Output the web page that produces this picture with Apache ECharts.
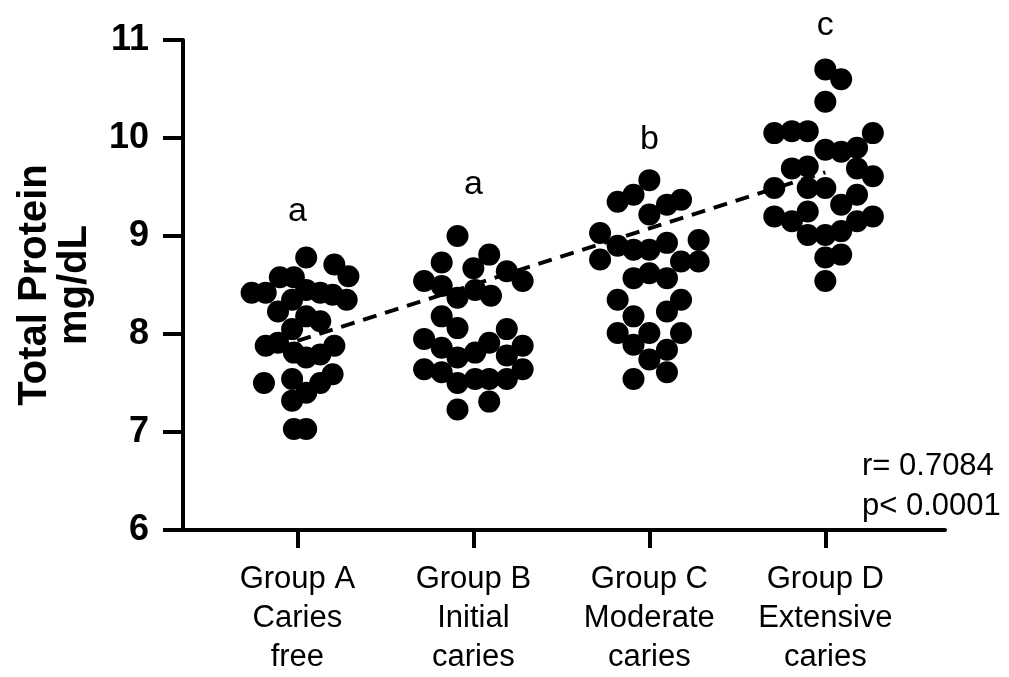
<!DOCTYPE html>
<html>
<head>
<meta charset="utf-8">
<script src="https://cdn.jsdelivr.net/npm/echarts@6/dist/echarts.min.js"></script>
<style>
    html, body { margin: 0; padding: 0; background: #fff; }
    #chart { width: 1009px; height: 677px; }
</style>
</head>
<body>
<div id="chart"></div>
<script>
// categories
const groups = ['Group A\nCaries\nfree', 'Group B\nInitial\ncaries', 'Group C\nModerate\ncaries', 'Group D\nExtensive\ncaries'];

// each point: [horizontal spread from group centre (category units), total protein mg/dL]
const groupA = [
    [0.05, 8.78], [0.21, 8.71], [0.29, 8.59], [-0.10, 8.58], [-0.02, 8.58],
    [-0.26, 8.42], [-0.18, 8.42], [0.05, 8.45], [0.13, 8.42], [0.20, 8.40],
    [0.28, 8.35], [-0.03, 8.35], [-0.11, 8.23], [0.05, 8.18], [0.13, 8.13],
    [-0.03, 8.05], [-0.18, 7.88], [-0.11, 7.91], [-0.02, 7.81], [0.05, 7.76],
    [0.13, 7.79], [0.21, 7.88], [-0.19, 7.50], [-0.03, 7.54], [0.13, 7.50],
    [0.20, 7.59], [0.05, 7.40], [-0.03, 7.32], [-0.02, 7.03], [0.05, 7.03]
];
const groupB = [
    [-0.09, 9.00], [0.09, 8.81], [-0.18, 8.73], [0.00, 8.67], [0.19, 8.64],
    [-0.28, 8.54], [0.28, 8.54], [-0.18, 8.49], [-0.09, 8.37], [0.01, 8.45],
    [0.10, 8.39], [-0.18, 8.18], [-0.09, 8.06], [0.19, 8.05], [-0.28, 7.95],
    [-0.18, 7.86], [-0.09, 7.76], [0.01, 7.81], [0.09, 7.91], [0.19, 7.78],
    [0.28, 7.88], [-0.28, 7.64], [-0.18, 7.61], [-0.09, 7.50], [0.01, 7.54],
    [0.09, 7.54], [0.19, 7.54], [0.28, 7.64], [-0.09, 7.23], [0.09, 7.31]
];
const groupC = [
    [0.00, 9.57], [-0.09, 9.42], [-0.18, 9.35], [0.18, 9.37], [0.10, 9.32],
    [0.00, 9.22], [-0.28, 9.03], [0.28, 8.96], [-0.18, 8.90], [-0.09, 8.86],
    [0.00, 8.86], [0.10, 8.93], [-0.28, 8.76], [0.18, 8.74], [0.28, 8.74],
    [-0.09, 8.57], [0.00, 8.62], [0.10, 8.57], [-0.18, 8.35], [0.18, 8.35],
    [-0.09, 8.18], [0.10, 8.23], [-0.18, 8.01], [-0.09, 7.89], [0.00, 8.01],
    [0.18, 8.01], [0.10, 7.84], [0.00, 7.74], [0.10, 7.61], [-0.09, 7.54]
];
const groupD = [
    [0.00, 10.70], [0.09, 10.60], [0.00, 10.37], [-0.29, 10.05], [-0.19, 10.07],
    [-0.10, 10.07], [0.27, 10.05], [0.00, 9.88], [0.09, 9.86], [0.18, 9.90],
    [-0.19, 9.69], [-0.10, 9.71], [0.18, 9.69], [0.27, 9.61], [-0.29, 9.49],
    [-0.10, 9.49], [0.00, 9.49], [0.09, 9.32], [0.18, 9.42], [-0.29, 9.20],
    [-0.19, 9.15], [-0.10, 9.25], [0.27, 9.20], [-0.10, 9.01], [0.00, 9.01],
    [0.09, 9.05], [0.18, 9.15], [0.00, 8.78], [0.09, 8.81], [0.00, 8.54]
];

// significance letters and the height they sit at
const sigLetters = ['a', 'a', 'b', 'c'];
const sigValues = [9.25, 9.52, 9.98, 11.15];

// linear regression ends (group 1 .. group 4)
const fitLine = [[1, 7.93], [4, 9.65]];
const stats = ['r= 0.7084', 'p< 0.0001'];

const FONT = 'Liberation Sans, Arial, sans-serif';

const chartDom = document.getElementById('chart');
const myChart = echarts.init(chartDom);

const points = [groupA, groupB, groupC, groupD].flatMap((pts, gi) =>
    pts.map(p => [gi + 1 + p[0], p[1]])
);

const option = {
    animation: false,
    backgroundColor: '#fff',
    grid: { left: 183, top: 40, right: 64, bottom: 146 },
    xAxis: {
        type: 'value',
        min: 0.35,
        max: 4.68,
        splitLine: { show: false },
        axisLine: { lineStyle: { color: '#000', width: 4 } },
        axisTick: {
            customValues: [1, 2, 3, 4],
            length: 18,
            lineStyle: { color: '#000', width: 4 }
        },
        axisLabel: {
            customValues: [1, 2, 3, 4],
            formatter: v => groups[Math.round(v) - 1],
            color: '#000',
            fontFamily: FONT,
            fontSize: 31,
            lineHeight: 39,
            margin: 30
        }
    },
    yAxis: {
        type: 'value',
        min: 6,
        max: 11,
        interval: 1,
        splitLine: { show: false },
        axisLine: { show: true, lineStyle: { color: '#000', width: 4 } },
        axisTick: { show: true, length: 20, lineStyle: { color: '#000', width: 4 } },
        axisLabel: {
            color: '#000',
            fontFamily: FONT,
            fontWeight: 'bold',
            fontSize: 36,
            margin: 34
        },
        name: 'Total Protein\nmg/dL',
        nameLocation: 'middle',
        nameRotate: 90,
        nameGap: 88,
        nameTextStyle: {
            color: '#000',
            fontFamily: FONT,
            fontWeight: 'bold',
            fontSize: 40,
            lineHeight: 40
        }
    },
    series: [
        {
            type: 'scatter',
            data: points,
            symbolSize: 22,
            itemStyle: { color: '#000', opacity: 1 }
        },
        {
            type: 'line',
            data: fitLine,
            symbol: 'none',
            lineStyle: { color: '#000', width: 4, type: [14, 9] },
            z: 3
        }
    ]
};

myChart.setOption(option);

// letters above the groups and the r / p note
const graphics = sigLetters.map((t, i) => {
    const [px, py] = myChart.convertToPixel({ gridIndex: 0 }, [i + 1, sigValues[i]]);
    return {
        type: 'text',
        x: px,
        y: py,
        style: {
            text: t,
            fill: '#000',
            font: '34px ' + FONT,
            align: 'center',
            verticalAlign: 'middle'
        }
    };
});
graphics.push({
    type: 'text',
    left: 862,
    top: 446,
    style: {
        text: stats.join('\n'),
        fill: '#000',
        font: '31px ' + FONT,
        lineHeight: 40
    }
});
myChart.setOption({ graphic: graphics });
</script>
</body>
</html>
